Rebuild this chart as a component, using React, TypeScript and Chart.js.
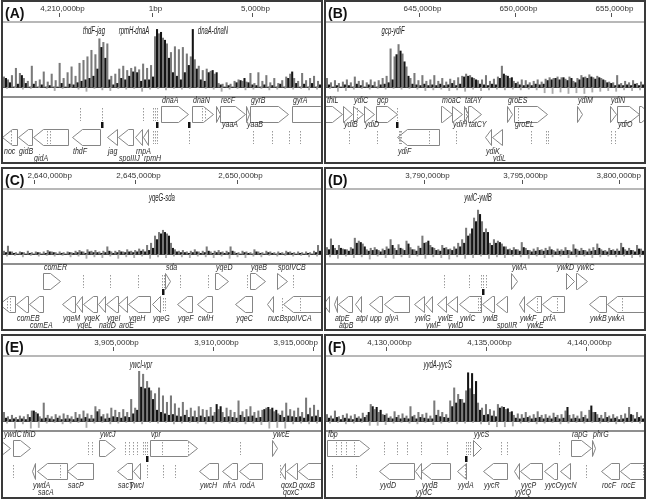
import React, { useEffect, useRef } from 'react';
import { Chart, registerables } from 'chart.js';

Chart.register(...registerables);

const SANS = 'Arial, "Liberation Sans", Helvetica, sans-serif';

type Gene = [string, number, number, number, number, number?];

// ---------------- Panel A ----------------
const A_RANGE = [-7450, 8450];
const A_TICKS = [-4630, 0, 5000];
const A_TICK_LABELS = ['4,210,000bp', '1bp', '5,000bp'];
const A_GREY = [1.4,1.0,1.6,2.6,1.9,1.2,0.8,2.9,0.8,1.0,2.1,0.7,1.8,0.9,3.3,1.2,2.0,2.8,1.5,3.3,3.7,4.2,5.1,4.5,6.7,6.2,6.0,1.5,1.8,2.5,2.9,2.3,2.6,2.8,2.4,3.2,2.6,3.0,7.0,7.4,6.8,6.0,4.8,5.6,5.2,5.5,4.6,4.2,3.8,2.9,2.3,2.5,2.2,1.8,0.5,0.4,0.6,0.4,0.8,1.0,0.8,0.7,1.9,0.5,2.0,0.8,1.6,0.6,1.2,0.5,0.9,1.4,1.8,1.2,0.8,1.9,0.9,1.2,1.5,0.8];
const A_BLACK = [1.2,0.6,0,0.4,1.6,0.5,0,0.4,0,0.3,0,0.2,0,0,0.5,0,0.4,0.3,0.6,0.8,1.0,1.2,1.5,2.5,5.5,4.0,1.0,0.3,0.5,1.2,1.0,1.5,2.1,2.0,0.8,1.0,1.0,1.4,8.0,7.6,6.5,4.0,2.0,1.5,1.0,2.0,3.0,8.0,2.5,1.0,0.8,2.0,2.3,2.0,0.3,0,0.2,0,0.6,0.9,1.2,0.6,0.3,0.2,0,0.3,0,0.2,0,0.4,0,1.2,2.1,0.5,0,0.4,0,0.5,0,0.3];
const A_NEG = [0.2,0.1,0.3,0.2,0.1,0.2,0.5,0.2,0.1,0.3,0.6,0.2,0.4,0.5,0.2,0.3,0.2,0.6,0.3,0.2,0.4,0.2,0.3,0.2,0.1,0.2,0.3,0.6,0.3,0.2,0.4,0.3,0.2,0.4,0.3,0.2,0.3,0.2,0.4,0.3];
const A_GENES: Gene[] = [
  ['dnaA', 450, 1800, 1, 0], ['dnaN', 2000, 3050, 1, 0], ['yaaA', 3200, 3400, 1, 1, 5], ['recF', 3400, 4650, 1, 0],
  ['yaaB', 4700, 4850, 1, 1], ['gyrB', 4900, 6800, 1, 0], ['gyrA', 7000, 8900, 1, 0],
  ['noc', -7500, -6750, -1, 0], ['gidB', -6700, -6000, -1, 0], ['gidA', -5950, -4200, -1, 1], ['thdF', -4000, -2600, -1, 0],
  ['jag', -2250, -1750, -1, 0], ['spoIIIJ', -1700, -950, -1, 1], ['rnpA', -850, -500, -1, 0], ['rpmH', -450, -200, -1, 1],
];
const A_FWD_MARKS = [-3600, -2500, -450, 50, 150, 250, 2500, 2650];
const A_REV_MARKS = [-7050, -5250, -5100, 50, 150, 250, 1850, 5050, 6000, 6850, 7400];
const A_SITES = [-2500, 250, 1850];
const A_PEAK_NAMES = ['thdF-jag', 'rpmH-dnaA', 'dnaA-dnaN'];
const A_PEAK_POS = [-2900, -900, 3050];

// ---------------- Panel B ----------------
const B_RANGE = [640156, 656719];
const B_TICKS = [645000, 650000, 655000];
const B_TICK_LABELS = ['645,000bp', '650,000bp', '655,000bp'];
const B_GREY = [1.2,0.6,0.9,0.5,0.7,1.0,0.6,1.4,0.8,0.9,0.6,1.0,0.7,0.9,1.2,1.5,5.3,4.2,5.9,4.6,2.8,1.2,1.9,0.9,1.6,0.8,1.0,1.6,0.8,1.2,0.7,1.1,0.9,1.3,1.5,1.8,1.6,1.2,0.9,1.0,1.6,0.8,1.1,1.4,2.9,1.6,1.2,0.8,0.7,1.0,0.9,0.6,0.8,1.0,0.7,1.1,1.3,1.2,1.4,1.3,1.1,1.4,0.8,1.2,1.6,1.4,1.7,1.3,1.5,1.2,0.9,0.7,0.6,1.6,0.5,0.8,0.6,0.9,0.5,0.7];
const B_BLACK = [0.3,0,0.2,0,0.3,0.2,0,0.4,0.2,0,0.3,0.2,0,0.3,0.4,0.6,1.0,4.5,5.0,3.5,1.5,0.4,0.3,0.2,0.4,0.2,0.3,0.2,0.4,0.2,0.3,0.5,0.2,0.4,1.4,1.5,1.3,1.0,0.4,0.3,0.2,0.4,0.3,1.2,1.8,1.5,1.3,0.5,0.3,0.2,0.3,0.2,0.4,0.3,0.4,0.9,1.0,1.2,1.0,1.3,0.9,1.2,0.6,1.0,1.3,1.2,1.4,1.1,1.3,1.0,0.6,0.5,0.2,0.3,0.2,0.3,0.2,0.4,0.2,0.3];
const B_NEG = [0.2,0.6,0.5,0.3,0.2,0.3,0.2,0.3,0.2,0.3,0.2,0.3,0.5,0.4,0.3,0.5,0.4,0.6,0.3,0.5,0.4,0.3,0.4,0.3,0.4,0.3,0.4,0.8,0.9,0.7,0.9,0.8,0.9,0.7,0.6,0.5,0.6,0.4,0.5,0.4];
const B_GENES: Gene[] = [
  ['thiL', 640100, 640990, 1, 0], ['ydiB', 641040, 641510, 1, 1], ['ydiC', 641560, 642080, 1, 0], ['ydiD', 642140, 642660, 1, 1],
  ['gcp', 642760, 643850, 1, 0], ['moaC', 646150, 646720, 1, 0], ['ydiH', 646720, 647240, 1, 1], ['tatAY', 647340, 647550, 1, 0],
  ['tatCY', 647550, 648230, 1, 1], ['groES', 649580, 649840, 1, 0], ['groEL', 649950, 651670, 1, 1], ['ydiM', 653230, 653490, 1, 0],
  ['ydiN', 654950, 655260, 1, 0], ['ydiO', 655310, 656460, 1, 1], ['', 656460, 657100, 1, 0],
  ['ydiF', 643850, 646040, -1, 0], ['ydiK', 648440, 648750, -1, 0], ['ydiL', 648800, 649320, -1, 1],
];
const B_FWD_MARKS = [641770, 643850, 647450, 650160];
const B_REV_MARKS = [641350, 642810, 643950, 644010, 644060, 645520, 646930, 650830, 651610, 651720, 655000, 655210];
const B_SITES = [643850];
const B_PEAK_NAMES = ['gcp-ydiF'];
const B_PEAK_POS = [643650];

// ---------------- Panel C ----------------
const C_RANGE = [2638473, 2654138];
const C_TICKS = [2640000, 2645000, 2650000];
const C_TICK_LABELS = ['2,640,000bp', '2,645,000bp', '2,650,000bp'];
const C_GREY = [0.4,1.1,0.3,0.2,0.3,0.2,0.4,0.2,0.3,0.2,0.3,0.5,0.3,0.2,0.3,0.2,0.3,0.2,0.4,0.5,0.3,0.6,0.4,0.5,0.3,0.4,1.0,0.3,0.4,0.5,0.3,0.6,0.4,0.5,0.7,0.6,1.2,1.5,2.5,3.0,3.3,2.8,1.5,0.6,0.4,0.5,0.3,0.4,0.6,0.3,0.4,1.0,0.3,0.4,0.5,0.3,0.4,1.0,0.3,0.2,0.4,0.3,0.2,0.6,0.3,0.2,0.4,0.3,0.2,0.3,0.2,0.4,0.3,0.2,0.3,0.2,0.3,0.2,0.4,1.2];
const C_BLACK = [0.2,0.3,0.1,0,0.2,0,0.1,0,0.2,0,0.1,0.3,0.2,0,0.1,0,0.2,0.1,0.2,0.3,0.1,0.3,0.2,0.2,0.1,0.2,0.4,0.1,0.2,0.3,0.2,0.3,0.2,0.3,0.4,0.3,0.5,0.8,2.0,2.8,3.0,2.5,0.8,0.3,0.2,0.2,0.1,0.2,0.3,0.1,0.2,0.4,0.1,0.2,0.2,0.1,0.2,0.4,0.1,0,0.2,0.1,0,0.3,0.1,0,0.2,0.1,0,0.1,0,0.2,0.1,0,0.1,0,0.1,0,0.2,0.4];
const C_NEG = [0.3,0.2,0.4,0.2,0.3,0.2,0.3,0.2,0.4,0.3,0.6,0.4,0.5,0.3,0.6,0.4,0.5,0.3,0.6,0.4,0.5,0.3,0.4,0.5,0.3,0.4,0.5,0.3,0.6,0.4,0.5,0.3,0.4,0.2,0.3,0.2,0.3,0.2,0.4,0.3];
const C_GENES: Gene[] = [
  ['comER', 2640440, 2641280, 1, 0], ['sda', 2646450, 2646700, 1, 0], ['yqeD', 2648920, 2649560, 1, 0],
  ['yqeB', 2650640, 2651380, 1, 0], ['spoIVCB', 2651970, 2652460, 1, 0],
  ['', 2638300, 2639060, -1, 0], ['comEB', 2639110, 2639700, -1, 0], ['comEA', 2639750, 2640440, -1, 1],
  ['yqeM', 2641380, 2642020, -1, 0], ['yqeL', 2642070, 2642360, -1, 1], ['yqeK', 2642410, 2643100, -1, 0],
  ['nadD', 2643150, 2643500, -1, 1], ['yqeI', 2643550, 2644140, -1, 0], ['aroE', 2644140, 2644580, -1, 1],
  ['yqeH', 2644630, 2645710, -1, 0], ['yqeG', 2645810, 2646210, -1, 0], ['yqeF', 2647040, 2647780, -1, 0],
  ['cwlH', 2648030, 2648770, -1, 0], ['yqeC', 2649920, 2650750, -1, 0], ['nucB', 2651480, 2651770, -1, 0],
  ['spoIVCA', 2652260, 2654600, -1, 0],
];
const C_FWD_MARKS = [2642410, 2643740, 2645120, 2646300, 2646400, 2647190, 2648570, 2650490, 2652760];
const C_REV_MARKS = [2638670, 2638820, 2646350, 2646450, 2652210, 2653100];
const C_SITES = [2646350];
const C_PEAK_NAMES = ['yqeG-sda'];
const C_PEAK_POS = [2646300];

// ---------------- Panel D ----------------
const D_RANGE = [3784974, 3801282];
const D_TICKS = [3790000, 3795000, 3800000];
const D_TICK_LABELS = ['3,790,000bp', '3,795,000bp', '3,800,000bp'];
const D_GREY = [0.9,2.1,0.8,1.2,0.7,0.6,0.9,2.2,1.8,1.4,0.6,0.8,0.9,0.5,0.7,1.0,2.0,0.8,1.3,0.7,1.8,0.9,0.6,1.1,2.5,1.6,1.2,0.8,0.6,1.2,0.9,0.7,1.0,1.5,2.0,3.6,2.8,5.0,6.1,4.5,3.5,1.5,2.0,1.8,1.4,1.0,0.7,0.9,0.6,1.6,0.8,0.5,0.7,0.9,0.6,0.8,1.0,0.5,0.7,0.6,0.9,0.5,1.3,0.6,0.8,0.5,0.7,0.9,1.4,0.6,0.5,0.8,0.6,0.7,1.5,0.6,0.8,0.5,1.2,0.7];
const D_BLACK = [0.6,1.2,0.5,0.8,0.6,0.4,0.7,1.5,1.6,1.0,0.4,0.5,0.6,0.3,0.5,0.7,1.2,0.5,0.8,0.5,1.4,0.6,0.4,0.8,1.5,1.8,0.9,0.5,0.4,0.8,0.6,0.5,0.7,1.0,1.5,2.5,3.5,4.5,5.5,3.0,3.0,1.2,1.5,1.6,1.0,0.6,0.5,0.6,0.4,0.9,0.5,0.3,0.4,0.5,0.4,0.5,0.6,0.3,0.4,0.4,0.5,0.3,0.7,0.4,0.5,0.3,0.4,0.5,0.8,0.4,0.3,0.5,0.4,0.4,0.9,0.4,0.5,0.3,0.7,0.4];
const D_NEG = [0.4,0.6,0.3,0.5,0.4,0.7,0.3,0.5,0.6,0.4,0.5,0.3,0.6,0.4,0.5,0.7,0.4,0.6,0.5,0.3,0.6,0.4,0.5,0.3,0.4,0.6,0.3,0.5,0.4,0.3,0.5,0.4,0.3,0.5,0.4,0.3,0.4,0.3,0.5,0.4];
const D_GENES: Gene[] = [
  ['ywlA', 3794460, 3794770, 1, 0], ['ywkD', 3797280, 3797690, 1, 0, -10], ['ywkC', 3797800, 3798360, 1, 0],
  ['', 3784800, 3785130, -1, 0], ['atpE', 3785380, 3785540, -1, 0], ['atpB', 3785590, 3786310, -1, 1],
  ['atpI', 3786460, 3786770, -1, 0], ['upp', 3787180, 3787850, -1, 0], ['glyA', 3787950, 3789230, -1, 0],
  ['ywlG', 3789490, 3790000, -1, 0], ['ywlF', 3790050, 3790410, -1, 1], ['ywlE', 3790670, 3791130, -1, 0],
  ['ywlD', 3791180, 3791690, -1, 1], ['ywlC', 3791800, 3792920, -1, 0], ['ywlB', 3792970, 3793590, -1, 0],
  ['spoIIR', 3793690, 3794260, -1, 1], ['ywkF', 3794870, 3795130, -1, 0], ['ywkE', 3795230, 3796000, -1, 1],
  ['prfA', 3796050, 3797180, -1, 0], ['ywkB', 3798460, 3799330, -1, 0], ['ywkA', 3799380, 3801600, -1, 0],
];
const D_FWD_MARKS = [3791030, 3792310, 3792920, 3793030, 3793180];
const D_REV_MARKS = [3792770, 3792870, 3795800, 3796820, 3800150];
const D_SITES = [3793030];
const D_PEAK_NAMES = ['ywlC-ywlB'];
const D_PEAK_POS = [3792770];

// ---------------- Panel E ----------------
const E_RANGE = [3899500, 3915400];
const E_TICKS = [3905000, 3910000, 3915000];
const E_TICK_LABELS = ['3,905,000bp', '3,910,000bp', '3,915,000bp'];
const E_GREY = [1.2,0.6,0.8,0.5,0.7,0.6,0.9,1.4,1.2,0.6,2.5,0.8,0.6,0.9,0.7,1.0,0.8,0.6,1.2,0.9,1.4,1.0,0.8,2.0,1.6,0.9,1.0,1.8,1.5,1.2,1.6,1.2,3.0,1.8,6.9,6.5,5.5,4.2,3.8,4.6,3.5,2.6,3.5,2.4,1.8,2.6,1.5,1.8,1.4,2.0,1.6,1.5,1.9,1.2,1.6,1.2,1.8,1.5,1.2,2.8,1.3,1.6,2.0,1.2,1.4,1.5,1.8,1.6,1.3,1.0,1.4,2.5,1.6,1.4,1.8,1.2,3.2,1.8,2.2,1.5];
const E_BLACK = [0.4,0.2,0.3,0.2,0.3,0.2,0.5,1.4,1.0,0.3,0.4,0.3,0.2,0.4,0.2,0.3,0.3,0.2,0.4,0.3,0.5,0.3,0.3,1.3,0.6,0.3,0.4,0.6,0.5,0.4,0.6,0.5,1.0,1.5,4.7,4.5,4.6,3.0,1.5,1.2,1.0,0.8,0.9,0.7,0.6,0.8,0.5,0.6,0.5,0.7,0.5,0.6,0.7,2.3,2.0,0.5,0.6,0.5,0.4,0.8,0.5,0.6,0.7,0.4,0.5,1.6,1.9,1.8,1.5,0.8,0.5,0.7,0.6,0.5,0.6,0.4,0.9,0.6,0.7,0.5];
const E_NEG = [0.3,1.0,0.4,1.0,0.9,0.3,0.2,0.4,0.3,0.2,0.9,0.3,0.2,0.4,0.3,0.2,0.3,0.4,0.2,0.3,0.2,0.4,0.3,0.2,0.3,0.4,0.3,0.2,0.3,0.2,0.4,0.3,0.5,1.0,0.9,1.0,0.4,0.3,0.4,0.3];
const E_GENES: Gene[] = [
  ['ywdC', 3899300, 3899850, 1, 0], ['thiD', 3900000, 3900850, 1, 0, 9], ['ywcJ', 3904300, 3905100, 1, 0],
  ['vpr', 3906850, 3909200, 1, 0], ['ywcE', 3912950, 3913200, 1, 0],
  ['ywdA', 3900950, 3901100, -1, 0], ['sacA', 3901200, 3902700, -1, 1], ['sacP', 3902700, 3904000, -1, 0],
  ['sacT', 3905200, 3905950, -1, 0], ['ywcI', 3906000, 3906350, -1, 0, -4], ['ywcH', 3909300, 3910250, -1, 0],
  ['nfrA', 3910450, 3911200, -1, 0], ['rodA', 3911300, 3912450, -1, 0], ['qoxD', 3913350, 3913600, -1, 0],
  ['qoxC', 3913650, 3914200, -1, 1, -4], ['qoxB', 3914250, 3915900, -1, 0],
];
const E_FWD_MARKS = [3903750, 3903950, 3905600, 3905800, 3906000, 3906200, 3906500, 3906600, 3906700, 3907450, 3908750, 3911350];
const E_REV_MARKS = [3900000, 3902350, 3906700, 3907500, 3908100, 3913350];
const E_SITES = [3906700];
const E_PEAK_NAMES = ['ywcI-vpr'];
const E_PEAK_POS = [3906400];

// ---------------- Panel F ----------------
const F_RANGE = [4127000, 4142900];
const F_TICKS = [4130000, 4135000, 4140000];
const F_TICK_LABELS = ['4,130,000bp', '4,135,000bp', '4,140,000bp'];
const F_GREY = [0.9,0.7,1.4,0.6,0.8,1.0,0.7,0.9,0.6,1.1,0.8,2.3,1.6,1.2,0.9,1.0,0.6,1.3,0.8,1.0,0.7,2.0,0.8,1.2,0.9,1.1,0.7,2.8,1.5,1.2,0.9,2.8,4.6,3.7,3.0,4.2,4.5,3.7,2.5,1.8,2.3,1.6,1.4,2.3,2.0,1.6,1.2,0.8,1.0,0.9,1.2,0.7,0.9,1.3,0.8,0.9,0.7,1.1,0.8,0.9,1.4,0.8,0.9,0.7,1.3,0.8,1.5,1.2,0.9,0.8,1.2,0.7,0.9,0.6,0.8,1.0,1.9,0.8,1.2,0.7];
const F_BLACK = [0.4,0.3,0.5,0.2,0.4,0.3,0.2,0.4,0.3,0.5,1.2,2.0,1.9,1.5,0.8,0.4,0.3,0.5,0.3,0.4,0.3,0.6,0.3,0.5,0.4,0.3,0.3,0.8,0.6,0.5,0.4,2.0,2.5,3.0,2.5,6.7,6.6,5.5,1.5,0.8,0.9,0.7,0.6,1.8,1.9,1.7,1.3,0.4,0.3,0.4,0.5,0.3,0.4,0.5,0.3,0.4,0.3,0.5,0.3,0.4,1.9,0.3,0.4,0.3,0.5,0.3,2.1,1.2,0.4,0.3,0.5,0.3,0.4,0.2,0.3,0.4,0.9,0.3,0.5,0.3];
const F_NEG = [0.3,0.2,0.4,0.3,0.2,0.6,0.6,0.5,0.3,0.2,0.3,0.4,0.2,0.5,0.3,0.2,0.4,0.3,0.2,0.4,0.5,0.8,0.8,0.7,0.3,0.2,0.4,0.3,0.2,0.4,0.3,0.2,0.3,0.2,0.3,0.2,0.4,0.3,0.2,0.3];
const F_GENES: Gene[] = [
  ['fbp', 4127050, 4129150, 1, 0], ['yycS', 4134350, 4134750, 1, 0], ['rapG', 4139250, 4140250, 1, 0], ['phrG', 4140300, 4140450, 1, 0],
  ['yydD', 4129650, 4131400, -1, 0], ['yydC', 4131450, 4131750, -1, 1], ['yydB', 4131750, 4133200, -1, 0],
  ['yydA', 4133550, 4134000, -1, 0], ['yycR', 4134850, 4136050, -1, 0], ['yycQ', 4136400, 4136650, -1, 1],
  ['yycP', 4136700, 4137800, -1, 0], ['yycO', 4137900, 4138550, -1, 0], ['yycN', 4138700, 4139200, -1, 0],
  ['rocF', 4140750, 4141650, -1, 0], ['rocE', 4141700, 4143300, -1, 0],
];
const F_FWD_MARKS = [4127500, 4127750, 4128000, 4128400, 4129900, 4130550, 4131050, 4131750, 4133050, 4134000, 4134100, 4134200, 4135750, 4136050, 4138650];
const F_REV_MARKS = [4127300, 4128500, 4133950, 4140000, 4142850];
const F_SITES = [4134000];
const F_PEAK_NAMES = ['yydA-yycS'];
const F_PEAK_POS = [4132580];

interface PanelCfg {
  tag: string; left: number; top: number; width: number; height: number;
  range: number[]; ticks: number[]; tickLabels: string[];
  grey: number[]; black: number[]; neg: number[];
  genes: Gene[]; fwdMarks: number[]; revMarks: number[]; sites: number[];
  peakNames: string[]; peakPos: number[];
}

const PANELS: PanelCfg[] = [
  { tag: '(A)', left: 1, top: 0, width: 322, height: 164, range: A_RANGE, ticks: A_TICKS, tickLabels: A_TICK_LABELS, grey: A_GREY, black: A_BLACK, neg: A_NEG, genes: A_GENES, fwdMarks: A_FWD_MARKS, revMarks: A_REV_MARKS, sites: A_SITES, peakNames: A_PEAK_NAMES, peakPos: A_PEAK_POS },
  { tag: '(B)', left: 324, top: 0, width: 322, height: 164, range: B_RANGE, ticks: B_TICKS, tickLabels: B_TICK_LABELS, grey: B_GREY, black: B_BLACK, neg: B_NEG, genes: B_GENES, fwdMarks: B_FWD_MARKS, revMarks: B_REV_MARKS, sites: B_SITES, peakNames: B_PEAK_NAMES, peakPos: B_PEAK_POS },
  { tag: '(C)', left: 1, top: 167, width: 322, height: 164, range: C_RANGE, ticks: C_TICKS, tickLabels: C_TICK_LABELS, grey: C_GREY, black: C_BLACK, neg: C_NEG, genes: C_GENES, fwdMarks: C_FWD_MARKS, revMarks: C_REV_MARKS, sites: C_SITES, peakNames: C_PEAK_NAMES, peakPos: C_PEAK_POS },
  { tag: '(D)', left: 324, top: 167, width: 322, height: 164, range: D_RANGE, ticks: D_TICKS, tickLabels: D_TICK_LABELS, grey: D_GREY, black: D_BLACK, neg: D_NEG, genes: D_GENES, fwdMarks: D_FWD_MARKS, revMarks: D_REV_MARKS, sites: D_SITES, peakNames: D_PEAK_NAMES, peakPos: D_PEAK_POS },
  { tag: '(E)', left: 1, top: 334, width: 322, height: 165, range: E_RANGE, ticks: E_TICKS, tickLabels: E_TICK_LABELS, grey: E_GREY, black: E_BLACK, neg: E_NEG, genes: E_GENES, fwdMarks: E_FWD_MARKS, revMarks: E_REV_MARKS, sites: E_SITES, peakNames: E_PEAK_NAMES, peakPos: E_PEAK_POS },
  { tag: '(F)', left: 324, top: 334, width: 322, height: 165, range: F_RANGE, ticks: F_TICKS, tickLabels: F_TICK_LABELS, grey: F_GREY, black: F_BLACK, neg: F_NEG, genes: F_GENES, fwdMarks: F_FWD_MARKS, revMarks: F_REV_MARKS, sites: F_SITES, peakNames: F_PEAK_NAMES, peakPos: F_PEAK_POS },
];

function squeezeText(ctx: CanvasRenderingContext2D, text: string, x: number, y: number, scale: number, align: CanvasTextAlign) {
  ctx.save();
  ctx.translate(x, y);
  ctx.scale(scale, 1);
  ctx.textAlign = align;
  ctx.fillText(text, 0, 0);
  ctx.restore();
}

function makeDecor(p: PanelCfg) {
  return {
    id: 'decor',
    beforeDatasetsDraw(chart: any) {
      const { ctx } = chart;
      const y0 = Math.round(chart.scales.y.getPixelForValue(0));
      ctx.save();
      ctx.fillStyle = '#4a4a4a';
      ctx.fillRect(0, y0, chart.width, 1);
      ctx.restore();
    },
    afterDraw(chart: any) {
      const { ctx, chartArea: ca } = chart;
      const xs = chart.scales.x;
      const W = chart.width;
      const px = (v: number) => xs.getPixelForValue(v);
      ctx.save();
      // header rule and separator
      ctx.fillStyle = '#b8b8b8';
      ctx.fillRect(0, ca.top - 1, W, 2);
      ctx.fillStyle = '#8f8f8f';
      ctx.fillRect(0, ca.bottom, W, 2);
      // tag
      ctx.fillStyle = '#111';
      ctx.font = `bold 14px ${SANS}`;
      ctx.textBaseline = 'middle';
      ctx.textAlign = 'left';
      ctx.fillText(p.tag, 2, 12);
      const tagRight = 2 + ctx.measureText(p.tag).width + 3;
      // tick marks and tick labels (kept inside the panel)
      ctx.strokeStyle = '#555';
      ctx.lineWidth = 1;
      ctx.font = `8px ${SANS}`;
      ctx.fillStyle = '#333';
      xs.ticks.forEach((t: any, i: number) => {
        const x = Math.round(px(t.value)) + 0.5;
        ctx.beginPath();
        ctx.moveTo(x, ca.top - 9);
        ctx.lineTo(x, ca.top - 5);
        ctx.stroke();
        const label = p.tickLabels[i];
        const w = ctx.measureText(label).width;
        let lx = x + 3 - w / 2;
        lx = Math.max(tagRight, Math.min(W - 3 - w, lx));
        ctx.textAlign = 'left';
        ctx.fillText(label, lx, 7);
      });
      // peak labels
      ctx.fillStyle = '#222';
      ctx.font = `italic 10px ${SANS}`;
      p.peakNames.forEach((n, i) => squeezeText(ctx, n, px(p.peakPos[i]), ca.top + 9, 0.6, 'center'));
      // genes
      const b = ca.bottom;
      const fTop = b + 10;
      const rTop = b + 33;
      const gh = 16;
      ctx.lineWidth = 1;
      ctx.strokeStyle = '#858585';
      ctx.fillStyle = '#fff';
      p.genes.forEach(([, s, e, strand]) => {
        const x1 = Math.round(px(s)) + 0.5;
        const x2 = Math.round(px(e)) + 0.5;
        const len = x2 - x1;
        const head = Math.min(10, len);
        ctx.beginPath();
        if (strand > 0) {
          const t = fTop + 0.5;
          ctx.moveTo(x1, t);
          ctx.lineTo(x2 - head, t);
          ctx.lineTo(x2, t + gh / 2);
          ctx.lineTo(x2 - head, t + gh);
          ctx.lineTo(x1, t + gh);
        } else {
          const t = rTop + 0.5;
          ctx.moveTo(x2, t);
          ctx.lineTo(x1 + head, t);
          ctx.lineTo(x1, t + gh / 2);
          ctx.lineTo(x1 + head, t + gh);
          ctx.lineTo(x2, t + gh);
        }
        ctx.closePath();
        ctx.fill();
        ctx.stroke();
      });
      // promoter / terminator marks
      ctx.strokeStyle = '#9a9a9a';
      ctx.setLineDash([1.5, 1.5]);
      const mark = (v: number, t: number) => {
        const x = Math.round(px(v)) + 0.5;
        ctx.beginPath();
        ctx.moveTo(x, t + 2);
        ctx.lineTo(x, t + gh - 1);
        ctx.stroke();
      };
      p.fwdMarks.forEach((v) => mark(v, fTop));
      p.revMarks.forEach((v) => mark(v, rTop));
      ctx.setLineDash([]);
      // binding sites
      ctx.fillStyle = '#111';
      p.sites.forEach((v) => ctx.fillRect(Math.round(px(v)) - 1, b + 26, 2.5, 6));
      // gene labels
      ctx.fillStyle = '#2a2a2a';
      ctx.font = `italic 9.5px ${SANS}`;
      ctx.textBaseline = 'alphabetic';
      p.genes.forEach(([name, s, , strand, row, dx]) => {
        if (!name) return;
        const x = Math.max(1, px(s) + 1 + (dx || 0));
        let y: number;
        if (strand > 0) y = row === 0 ? fTop - 3 : fTop + gh + 5;
        else y = row === 0 ? b + 58 : b + 64.5;
        squeezeText(ctx, name, x, y, 0.74, 'left');
      });
      ctx.restore();
    },
  };
}

function buildConfig(p: PanelCfg, canvasH: number): any {
  const [xMin, xMax] = p.range;
  const step = (xMax - xMin) / p.grey.length;
  const negStep = (xMax - xMin) / p.neg.length;
  const greyData = p.grey.map((v, i) => ({ x: xMin + (i + 0.25) * step, y: v }));
  const blackData = p.black.map((v, i) => ({ x: xMin + (i + 0.75) * step, y: v }));
  const negData = p.neg.map((v, i) => ({ x: xMin + (i + 0.5) * negStep, y: -v }));
  return {
    type: 'bar',
    data: {
      datasets: [
        { label: 'black', data: blackData, backgroundColor: '#141414', barThickness: 1.4, grouped: false, order: 0, borderWidth: 0 },
        { label: 'grey', data: greyData, backgroundColor: '#7a7a7a', barThickness: 1.4, grouped: false, order: 1, borderWidth: 0 },
        { label: 'neg', data: negData, backgroundColor: '#ababab', barThickness: 1.2, grouped: false, order: 2, borderWidth: 0 },
      ],
    },
    options: {
      responsive: false,
      maintainAspectRatio: false,
      animation: false,
      devicePixelRatio: 1,
      layout: { padding: { top: 0, left: 0, right: 0, bottom: canvasH - 94 } },
      plugins: { legend: { display: false }, tooltip: { enabled: false }, title: { display: false } },
      scales: {
        x: {
          type: 'linear',
          position: 'top',
          min: xMin,
          max: xMax,
          offset: false,
          grid: { display: false, drawTicks: false },
          border: { display: false },
          afterBuildTicks: (s: any) => { s.ticks = p.ticks.map((v) => ({ value: v })); },
          afterFit: (s: any) => { s.height = 20; s.paddingLeft = 0; s.paddingRight = 0; },
          ticks: { display: false, autoSkip: false, maxRotation: 0 },
        },
        y: { display: false, min: -1.25, max: 9.03 },
      },
    },
    plugins: [makeDecor(p)],
  };
}

function Panel({ p }: { p: PanelCfg }) {
  const ref = useRef<HTMLCanvasElement>(null);
  const cw = p.width - 4;
  const ch = p.height - 4;
  useEffect(() => {
    if (!ref.current) return;
    const chart = new Chart(ref.current, buildConfig(p, ch));
    return () => chart.destroy();
  }, []);
  return (
    <div
      style={{
        position: 'absolute', left: p.left, top: p.top, width: p.width, height: p.height,
        border: '2px solid #3a3a3a', boxSizing: 'border-box', background: '#fff',
      }}
    >
      <canvas ref={ref} width={cw} height={ch} style={{ display: 'block', width: cw, height: ch }} />
    </div>
  );
}

export default function App() {
  return (
    <div style={{ position: 'absolute', left: 0, top: 0, width: 648, height: 499, background: '#fff', overflow: 'hidden' }}>
      {PANELS.map((p) => <Panel key={p.tag} p={p} />)}
    </div>
  );
}
